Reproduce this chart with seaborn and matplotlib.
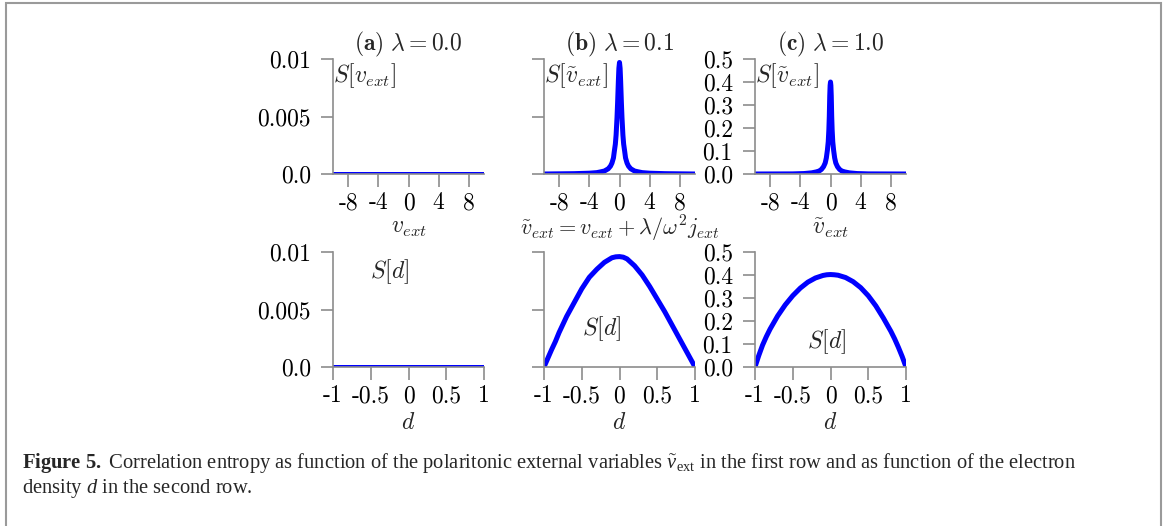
import matplotlib
matplotlib.use('Agg')
import matplotlib.pyplot as plt
import seaborn as sns
from matplotlib.patches import Rectangle

# ---- values ----
# row 1: correlation entropy vs external variable
v_flat = [-10, 10]
S_v_lam00 = [0.0, 0.0]

v_lam01 = [-10, -6, -4, -3, -2.4, -2, -1.5, -1.2, -1, -0.8, -0.68, -0.55, -0.45, -0.33, -0.25,
           -0.15, -0.08, 0, 0.08, 0.15, 0.25, 0.33, 0.45, 0.55, 0.68, 0.8, 1, 1.2, 1.5, 2, 2.4,
           3, 4, 6, 10]
S_v_lam01 = [0.0, 0.00003, 0.00007, 0.00012, 0.0002, 0.00026, 0.00045, 0.00068, 0.00095, 0.0014,
             0.0020, 0.0026, 0.0034, 0.0049, 0.0062, 0.0081, 0.0092, 0.0097, 0.0092, 0.0081,
             0.0062, 0.0049, 0.0034, 0.0026, 0.0020, 0.0014, 0.00095, 0.00068, 0.00045, 0.00026,
             0.0002, 0.00012, 0.00007, 0.00003, 0.0]

v_lam10 = [-10, -5, -3.5, -2.5, -1.9, -1.5, -1.2, -0.92, -0.7, -0.55, -0.41, -0.3, -0.22, -0.16,
           -0.1, -0.05, 0, 0.05, 0.1, 0.16, 0.22, 0.3, 0.41, 0.55, 0.7, 0.92, 1.2, 1.5, 1.9, 2.5,
           3.5, 5, 10]
S_v_lam10 = [0.0, 0.0005, 0.002, 0.005, 0.009, 0.013, 0.02, 0.032, 0.048, 0.07, 0.104, 0.14,
             0.19, 0.25, 0.34, 0.385, 0.40, 0.385, 0.34, 0.25, 0.19, 0.14, 0.104, 0.07, 0.048,
             0.032, 0.02, 0.013, 0.009, 0.005, 0.002, 0.0005, 0.0]

# row 2: correlation entropy vs density
d_flat = [-1, 1]
S_d_lam00 = [0.0, 0.0]

d_grid = [-1, -0.95, -0.9, -0.85, -0.8, -0.7, -0.6, -0.5, -0.4, -0.3, -0.2, -0.1, -0.05, 0,
          0.05, 0.1, 0.2, 0.3, 0.4, 0.5, 0.6, 0.7, 0.8, 0.85, 0.9, 0.95, 1]
S_d_lam01 = [0.0, 0.00075, 0.0015, 0.0022, 0.0030, 0.0044, 0.0056, 0.0068, 0.0078, 0.0085,
             0.0091, 0.0095, 0.00958, 0.0096, 0.00955, 0.0094, 0.0088, 0.0080, 0.0070, 0.0059,
             0.0048, 0.0036, 0.0024, 0.0018, 0.0012, 0.0006, 0.0]
S_d_lam10 = [0.0, 0.05, 0.095, 0.132, 0.165, 0.222, 0.27, 0.31, 0.343, 0.369, 0.387, 0.398,
             0.401, 0.402, 0.401, 0.399, 0.389, 0.371, 0.345, 0.31, 0.266, 0.213, 0.155, 0.122,
             0.085, 0.045, 0.0]

titles = [r'$\mathbf{(a)}\ \lambda = 0.0$', r'$\mathbf{(b)}\ \lambda = 0.1$',
          r'$\mathbf{(c)}\ \lambda = 1.0$']
xlabels_top = [r'$v_{ext}$', r'$\tilde{v}_{ext} = v_{ext} + \lambda/\omega^2 j_{ext}$',
               r'$\tilde{v}_{ext}$']
v_ticks = [-8, -4, 0, 4, 8]
v_ticklabels = ['-8', '-4', '0', '4', '8']
d_ticks = [-1, -0.5, 0, 0.5, 1]
d_ticklabels = ['-1', '-0.5', '0', '0.5', '1']
small_ticks = [0, 0.005, 0.01]
small_ticklabels = ['0.0', '0.005', '0.01']
big_ticks = [0, 0.1, 0.2, 0.3, 0.4, 0.5]
big_ticklabels = ['0.0', '0.1', '0.2', '0.3', '0.4', '0.5']

sns.set_theme(style='ticks')
plt.rcParams['mathtext.fontset'] = 'cm'
plt.rcParams['mathtext.rm'] = 'Liberation Serif'
plt.rcParams['mathtext.it'] = 'Liberation Serif:italic'
plt.rcParams['mathtext.bf'] = 'Liberation Serif:bold'
plt.rcParams['font.family'] = ['cmr10', 'DejaVu Serif']
plt.rcParams['axes.formatter.use_mathtext'] = True

GRAY = '#8c8c8c'
BLUE = '#0000ff'
FS = 17
W, H = 1165, 526
fig = plt.figure(figsize=(W / 100, H / 100), dpi=100)

col_left = [333, 544, 755]
row_top = [59, 252]
axw, axh = 151, 115


def make_ax(col, row):
    l = col_left[col]
    t = row_top[row]
    ax = fig.add_axes([l / W, 1 - (t + axh) / H, axw / W, axh / H])
    sns.despine(ax=ax)
    for s in ['left', 'bottom']:
        ax.spines[s].set_color(GRAY)
        ax.spines[s].set_linewidth(1.2)
    ax.tick_params(direction='out', length=9, width=1.2, color=GRAY, pad=7,
                   labelsize=FS, labelcolor='black')
    ax.tick_params(axis='x', pad=4)
    return ax


panels = [
    (0, 0, v_flat, S_v_lam00, 0.01),
    (1, 0, v_lam01, S_v_lam01, 0.01),
    (2, 0, v_lam10, S_v_lam10, 0.5),
    (0, 1, d_flat, S_d_lam00, 0.01),
    (1, 1, d_grid, S_d_lam01, 0.01),
    (2, 1, d_grid, S_d_lam10, 0.5),
]

for col, row, xs, ys, ytop in panels:
    ax = make_ax(col, row)
    sns.lineplot(x=xs, y=ys, ax=ax, color=BLUE, lw=3.6)
    ax.set_ylim(0, ytop)
    if row == 0:
        ax.set_xlim(-10, 10)
        ax.set_xticks(v_ticks)
        ax.set_xticklabels(v_ticklabels)
        ax.set_title(titles[col], fontsize=FS, pad=6)
        if col == 1:
            # the long formula sits a little higher so it clears the 0.5 label below
            ax.set_xlabel(xlabels_top[col], fontsize=16, va='top')
            ax.xaxis.set_label_coords(0.5, -0.345)
        else:
            ax.set_xlabel(xlabels_top[col], fontsize=FS, va='top')
            ax.xaxis.set_label_coords(0.5, -0.37)
        lab = r'$S[v_{ext}]$' if col == 0 else r'$S[\tilde{v}_{ext}]$'
        ax.text(0.0, 0.98, lab, transform=ax.transAxes, ha='left', va='top', fontsize=FS)
    else:
        ax.set_xlim(-1, 1)
        ax.set_xticks(d_ticks)
        ax.set_xticklabels(d_ticklabels)
        ax.set_xlabel(r'$d$', fontsize=FS, va='top')
        ax.xaxis.set_label_coords(0.5, -0.39)
    if ytop == 0.01:
        ax.set_yticks(small_ticks)
        ax.set_yticklabels(small_ticklabels if col == 0 else [])
    else:
        ax.set_yticks(big_ticks)
        ax.set_yticklabels(big_ticklabels)
    ax.set_ylabel('')

# S[d] labels inside the lower panels
lower_axes = fig.axes[3:]
lower_axes[0].text(-0.245, 0.0083, r'$S[d]$', ha='center', va='center', fontsize=FS)
lower_axes[1].text(-0.237, 0.0033, r'$S[d]$', ha='center', va='center', fontsize=FS)
lower_axes[2].text(-0.057, 0.109, r'$S[d]$', ha='center', va='center', fontsize=FS)

# frame around the figure
fig.patches.append(Rectangle((6 / W, -0.02), (1161 - 6) / W, 1.02 - 3 / H,
                             transform=fig.transFigure, fill=False, ec='#9a9a9a', lw=1.5))

cap1 = (r'$\mathbf{Figure\ 5.}$ Correlation entropy as function of the polaritonic external '
        r'variables $\tilde{v}_{\mathrm{ext}}$ in the first row and as function of the electron')
cap2 = r'density $d$ in the second row.'
fig.text(22 / W, 1 - 463 / H, cap1, fontsize=14.8, family='Liberation Serif',
         math_fontfamily='custom', va='center', ha='left')
fig.text(22 / W, 1 - 489 / H, cap2, fontsize=14.8, family='Liberation Serif',
         math_fontfamily='custom', va='center', ha='left')

fig.savefig('out.png', dpi=100)
